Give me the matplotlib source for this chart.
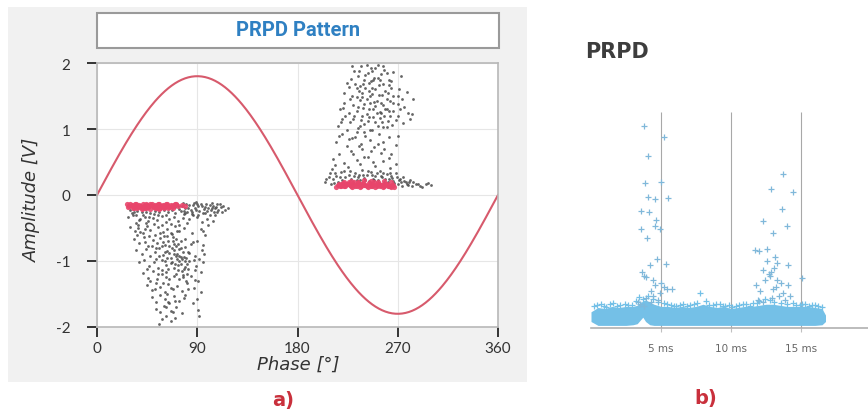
import matplotlib
matplotlib.use("Agg")
import matplotlib.pyplot as plt
from matplotlib.patches import Rectangle
import numpy as np

# ---------------- Panel a data ----------------
phase_deg = np.linspace(0, 360, 361)
sine_amp = 1.8

neg_phase = [28,30,33,36,40,44,48,52,56,60,64,67,70,72,74,76,78,80,82,84,86,88,90,92,94,96,98,100,102,104,106,108,111,115,79,85,91,97,103,89,
             28,32,35,39,43,46,50,54,58,62,65,69,73,77,83,90,99,106,
             30,34,37,41,45,48,52,55,59,63,66,70,74,78,85,93,97,
             33,38,42,46,50,54,57,61,64,68,71,75,79,84,90,95,
             35,40,44,48,52,56,59,63,66,69,72,75,78,82,88,94,
             38,42,47,51,55,58,62,66,69,72,75,79,83,89,95,
             41,46,50,54,58,62,65,69,73,77,81,88,93,
             45,49,53,57,61,64,68,72,76,81,87,
             49,53,57,61,65,69,74,79,90,
             53,57,62,66,71,76,91,
             58,62,66,70,
             60,67,71,74,70,77,63,73,65,76,71,80,68,58,61,79,82,74,
             31,37,43,47,51,53,57,59,61,63,65,67,69,71,73,75,77,79,81,83,86,88,92,96,100,104,
             45,48,52,55,59,63,66,70,74,78,82,86,92,68,60,56,64,
             35,38,41,44,47,51,55,58,62,66,70,74,78,81,86,94,101,108,113,118,
             73,75,77,79,81,83,85,87,89,91,93,95,97,99,101,103,105,107,109,110,112,
             36,39,43,49,53,56,58,62,64,67,69,72,74,76,78,80,84,87,91,93,95]
neg_amp = [-0.15,-0.22,-0.25,-0.24,-0.26,-0.25,-0.27,-0.24,-0.26,-0.23,-0.25,-0.22,-0.18,-0.14,-0.21,-0.16,-0.24,-0.13,-0.19,-0.22,-0.15,-0.2,-0.13,-0.24,-0.17,-0.21,-0.14,-0.19,-0.23,-0.16,-0.2,-0.14,-0.18,-0.22,-0.28,-0.29,-0.3,-0.27,-0.12,-0.1,
           -0.34,-0.31,-0.42,-0.36,-0.33,-0.4,-0.35,-0.38,-0.32,-0.41,-0.36,-0.33,-0.39,-0.35,-0.37,-0.33,-0.36,-0.31,
           -0.48,-0.55,-0.5,-0.58,-0.47,-0.53,-0.6,-0.49,-0.56,-0.51,-0.58,-0.47,-0.55,-0.5,-0.57,-0.52,-0.6,
           -0.66,-0.72,-0.64,-0.77,-0.68,-0.73,-0.65,-0.75,-0.69,-0.63,-0.78,-0.7,-0.66,-0.74,-0.69,-0.76,
           -0.84,-0.9,-0.82,-0.93,-0.86,-0.81,-0.91,-0.85,-0.95,-0.83,-0.89,-0.8,-0.94,-0.87,-0.92,-0.84,
           -1.02,-0.98,-1.08,-1.01,-1.1,-0.99,-1.06,-1.03,-1.11,-0.97,-1.05,-1.09,-1.0,-1.07,-1.02,
           -1.18,-1.25,-1.15,-1.28,-1.2,-1.16,-1.27,-1.22,-1.14,-1.24,-1.19,-1.29,-1.16,
           -1.36,-1.44,-1.33,-1.4,-1.47,-1.35,-1.42,-1.38,-1.46,-1.34,-1.41,
           -1.55,-1.62,-1.51,-1.58,-1.64,-1.53,-1.6,-1.52,-1.57,
           -1.72,-1.78,-1.69,-1.75,-1.7,-1.79,-1.74,
           -1.88,-1.84,-1.91,-1.86,
           -0.62,-0.8,-0.92,-1.0,-1.05,-0.86,-0.95,-0.74,-0.88,-1.15,-1.2,-0.95,-0.7,-0.77,-1.0,-1.0,-1.12,-0.93,
           -0.28,-0.45,-0.52,-0.62,-0.44,-0.81,-0.58,-0.71,-0.87,-0.62,-0.77,-1.01,-0.9,-0.67,-1.06,-0.94,-1.21,-0.79,-1.04,-0.88,-0.71,-1.13,-0.97,-0.9,-0.46,-0.4,
           -1.12,-1.31,-1.42,-1.19,-1.33,-1.5,-1.41,-1.61,-1.28,-1.56,-1.43,-1.63,-1.83,-1.77,-1.68,-1.95,-1.62,
           -0.3,-0.38,-0.3,-0.43,-0.33,-0.29,-0.31,-0.45,-0.3,-0.44,-0.28,-0.46,-0.29,-0.42,-0.3,-0.41,-0.3,-0.25,-0.17,-0.2,
           -0.16,-0.24,-0.12,-0.2,-0.26,-0.15,-0.25,-0.12,-0.23,-0.17,-0.14,-0.27,-0.18,-0.24,-0.15,-0.2,-0.26,-0.18,-0.22,-0.13,-0.25,
           -0.6,-0.56,-0.71,-0.78,-0.97,-0.92,-1.14,-1.24,-1.12,-0.59,-0.74,-0.55,-0.82,-0.97,-1.12,-1.3,-1.23,-0.98,-1.3,-1.47,-0.55]

neg_pink_phase = [27,29,31,33,35,37,39,41,43,45,47,49,51,53,55,57,59,61,63,65,67,69,71,
                  28,30,32,34,36,38,40,42,44,46,48,50,52,54,56,58,60,62,64,66,68,70,
                  32,36,40,44,48,52,56,60,64,68,73,76,79]
neg_pink_amp = [-0.13,-0.17,-0.15,-0.19,-0.14,-0.18,-0.16,-0.13,-0.19,-0.15,-0.17,-0.14,-0.18,-0.16,-0.13,-0.19,-0.15,-0.17,-0.14,-0.18,-0.16,-0.15,-0.14,
                -0.18,-0.14,-0.16,-0.13,-0.17,-0.15,-0.19,-0.16,-0.14,-0.18,-0.13,-0.17,-0.15,-0.19,-0.14,-0.16,-0.18,-0.13,-0.17,-0.15,-0.16,-0.14,
                -0.2,-0.2,-0.21,-0.2,-0.21,-0.2,-0.21,-0.2,-0.2,-0.19,-0.16,-0.15,-0.17]

pos_phase = [205,208,210,212,214,216,218,220,222,224,226,228,230,232,234,236,238,240,242,244,246,248,250,252,254,256,258,260,262,264,266,268,270,272,274,276,278,280,283,286,290,295,300,211,225,250,263,
             212,217,222,228,233,238,243,248,255,262,268,
             215,220,224,229,233,237,241,245,249,253,257,262,268,
             216,220,224,227,231,234,237,240,244,247,250,254,257,261,265,270,275,283,
             218,222,226,230,233,236,239,242,245,248,251,254,257,260,263,266,270,276,284,
             222,226,229,232,235,238,241,244,247,250,253,256,259,262,266,271,278,
             228,231,234,237,240,243,246,249,252,255,258,262,266,273,
             238,245,250,242,255,260,236,248,240,252,244,258,233,247,262,
             230,232,234,236,238,240,241,243,245,246,248,249,251,252,253,255,256,257,259,260,261,263,264,266,268,270,272,274,279,281,
             224,227,229,233,235,239,242,244,247,250,254,257,260,264,223,221,219,217,226,230,235,240,246,252,258,264,270,214,236,257,
             206,209,213,215,219,221,223,227,229,231,233,235,237,239,241,243,245,247,249,251,253,255,257,259,261,263,265,267,269,271,273,275,277,279,281,284,288,292,297]
pos_amp = [0.2,0.28,0.16,0.24,0.33,0.19,0.27,0.22,0.36,0.18,0.3,0.24,0.2,0.34,0.27,0.22,0.38,0.26,0.31,0.21,0.35,0.25,0.29,0.22,0.37,0.27,0.2,0.32,0.24,0.29,0.21,0.34,0.17,0.25,0.14,0.21,0.16,0.19,0.13,0.17,0.14,0.16,0.15,0.4,0.42,0.44,0.41,
           0.55,0.62,0.48,0.66,0.53,0.7,0.58,0.5,0.63,0.56,0.47,
           0.8,0.92,0.75,0.86,0.95,0.78,0.9,0.83,0.73,0.93,0.81,0.88,0.76,
           1.05,1.15,0.99,1.1,1.2,1.02,1.13,1.07,1.18,0.98,1.1,1.16,1.03,1.12,1.06,1.19,1.09,1.22,
           1.3,1.4,1.25,1.37,1.28,1.44,1.32,1.23,1.39,1.3,1.43,1.26,1.36,1.31,1.42,1.27,1.38,1.33,1.45,
           1.55,1.64,1.5,1.68,1.57,1.49,1.62,1.7,1.53,1.6,1.67,1.52,1.58,1.66,1.5,1.6,1.56,
           1.76,1.88,1.8,1.95,1.74,1.85,1.92,1.78,1.97,1.83,1.9,1.75,1.86,1.8,
           1.2,1.5,1.35,1.45,1.25,1.45,1.65,1.75,0.95,1.05,1.3,1.2,1.48,1.62,1.28,
           1.15,0.88,1.33,1.05,1.55,1.38,1.82,1.12,0.98,1.72,1.18,1.41,1.25,1.78,1.52,1.4,1.1,1.68,1.3,1.03,1.55,1.2,1.62,1.4,1.13,1.5,1.3,1.45,1.25,1.15,
           1.7,1.45,1.95,1.62,1.88,1.68,1.97,1.57,1.88,1.92,1.74,1.96,1.85,1.72,1.2,1.32,1.1,0.9,0.85,0.62,0.74,0.58,0.67,0.78,0.7,0.62,0.9,0.45,0.47,0.52,
           0.25,0.33,0.18,0.29,0.35,0.16,0.28,0.36,0.17,0.29,0.23,0.31,0.17,0.3,0.23,0.37,0.19,0.3,0.22,0.34,0.18,0.29,0.33,0.24,0.19,0.33,0.26,0.18,0.28,0.22,0.19,0.27,0.2,0.15,0.23,0.19,0.17,0.12,0.18]

pos_pink_phase = [215,217,219,221,223,225,227,229,231,233,235,237,239,241,243,245,247,249,251,253,255,257,259,261,263,265,267,
                  216,218,220,222,224,226,228,230,232,234,236,238,240,242,244,246,248,250,252,254,256,258,260,262,264,266,
                  222,228,234,240,246,252,258,264]
pos_pink_amp = [0.12,0.16,0.14,0.18,0.13,0.17,0.15,0.12,0.19,0.14,0.16,0.13,0.18,0.15,0.12,0.17,0.14,0.19,0.13,0.16,0.15,0.12,0.17,0.14,0.13,0.15,0.12,
                0.15,0.13,0.17,0.14,0.16,0.19,0.13,0.16,0.14,0.18,0.12,0.16,0.15,0.13,0.18,0.14,0.16,0.12,0.17,0.14,0.15,0.13,0.16,0.14,0.12,0.15,
                0.2,0.21,0.2,0.22,0.21,0.2,0.21,0.19]

phase_ticks = [0, 90, 180, 270, 360]
amp_ticks = [-2, -1, 0, 1, 2]

# ---------------- Panel b data ----------------
pk1_t = [3.81,5.24,4.09,3.88,5.02,4.05,4.59,5.50,3.55,4.12,4.67,3.60,4.02,4.55,4.93,4.69,5.36,4.20,3.62,3.76,3.95,5.00,5.20,5.45,5.80,4.30,4.45,3.95,3.35,3.75,4.25,4.60,4.95,3.50,4.80,4.40]
pk1_a = [0.934,0.883,0.798,0.670,0.674,0.608,0.596,0.600,0.540,0.539,0.50,0.458,0.415,0.47,0.46,0.319,0.296,0.29,0.258,0.24,0.235,0.21,0.19,0.18,0.18,0.17,0.15,0.14,0.12,0.1,0.12,0.2,0.16,0.11,0.13,0.22]
pk2_t = [13.71,12.88,14.40,13.62,12.26,14.02,12.98,11.70,12.00,12.60,13.30,13.05,12.85,12.25,13.30,14.05,14.10,15.05,11.80,12.10,12.40,12.70,13.00,13.40,13.70,14.20,11.90,12.30,12.90,13.20,13.55,13.85,12.55,13.15,12.75]
pk2_a = [0.713,0.642,0.628,0.551,0.497,0.471,0.44,0.36,0.355,0.365,0.30,0.28,0.26,0.27,0.22,0.29,0.2,0.23,0.2,0.17,0.22,0.25,0.18,0.15,0.16,0.15,0.13,0.12,0.14,0.19,0.21,0.13,0.31,0.33,0.24]

band_t = [0.0,0.5,1.0,1.5,2.0,2.5,3.0,3.3,3.5,3.7,3.9,4.2,4.5,5.0,5.5,6.0,6.5,7.0,7.5,8.0,8.5,9.0,9.5,10.0,10.5,11.0,11.5,12.0,12.5,13.0,13.5,14.0,14.5,15.0,15.5,16.0,16.5,16.75]
band_top = [0.075,0.095,0.09,0.1,0.095,0.1,0.1,0.105,0.115,0.125,0.13,0.12,0.11,0.1,0.1,0.095,0.1,0.095,0.1,0.11,0.1,0.095,0.1,0.09,0.095,0.1,0.1,0.105,0.11,0.11,0.105,0.1,0.1,0.1,0.1,0.095,0.09,0.06]
band_bot = [0.03,0.012,0.012,0.012,0.012,0.012,0.015,0.02,0.035,0.05,0.03,0.015,0.012,0.012,0.012,0.012,0.012,0.012,0.012,0.012,0.012,0.012,0.012,0.012,0.012,0.012,0.012,0.012,0.012,0.012,0.012,0.012,0.012,0.012,0.012,0.012,0.015,0.03]

edge_t = [0.2,0.7,1.1,1.6,2.1,2.4,2.9,3.2,3.4,3.7,4.1,4.4,4.8,5.2,5.7,6.1,6.6,7.1,7.6,7.8,8.2,8.7,9.2,9.6,10.1,10.6,11.1,11.6,12.0,12.4,12.8,13.1,13.6,14.0,14.4,14.9,15.3,15.8,16.2,16.5,
          0.45,0.95,1.35,1.85,2.65,5.45,5.95,6.35,6.85,7.35,8.45,8.95,9.4,9.85,10.35,10.85,11.35,11.85,14.65,15.1,15.55,16.0]
edge_a = [0.1,0.11,0.095,0.115,0.105,0.11,0.105,0.125,0.145,0.135,0.15,0.135,0.12,0.115,0.105,0.1,0.11,0.105,0.115,0.16,0.125,0.105,0.11,0.1,0.095,0.105,0.11,0.115,0.125,0.135,0.13,0.12,0.115,0.11,0.115,0.105,0.11,0.105,0.1,0.095,
          0.105,0.1,0.11,0.1,0.105,0.11,0.1,0.105,0.1,0.11,0.105,0.11,0.1,0.105,0.1,0.11,0.1,0.115,0.105,0.11,0.1,0.105]

time_ticks = [5, 10, 15]
time_labels = ["5 ms", "10 ms", "15 ms"]

# ---------------- Figure ----------------
W, H = 868, 414
fig = plt.figure(figsize=(W / 100, H / 100), dpi=100)
fig.patch.set_facecolor("white")

def fx(px):
    return px / W

def fy(py):
    return 1 - py / H

# gray panel background for a)
fig.patches.append(Rectangle((fx(8), fy(383)), fx(519), (383 - 8) / H,
                             transform=fig.transFigure, facecolor="#f1f1f1",
                             edgecolor="none", zorder=-5))
# title box
fig.patches.append(Rectangle((fx(97), fy(49)), fx(402), 35 / H,
                             transform=fig.transFigure, facecolor="white",
                             edgecolor="#9a9a9a", linewidth=1.5, zorder=-4))
fig.text(fx(298), fy(31), "PRPD Pattern", ha="center", va="center",
         color="#2f80c2", fontsize=14.5, fontweight="bold", family="Roboto", zorder=2)

ax = fig.add_axes([fx(97), fy(328), fx(401), 264 / H])
ax.set_zorder(1)
ax.set_facecolor("white")
ax.set_xlim(0, 360)
ax.set_ylim(-2, 2)
ax.grid(True, color="#e6e6e6", linewidth=0.8, zorder=0)
ax.set_axisbelow(True)

ax.plot(phase_deg, sine_amp * np.sin(np.deg2rad(phase_deg)), color="#d75a6c", linewidth=1.5, zorder=2)
ax.scatter(neg_phase, neg_amp, s=4, color="#4a4a4a", alpha=0.85, linewidths=0, zorder=3)
ax.scatter(pos_phase, pos_amp, s=4, color="#4a4a4a", alpha=0.85, linewidths=0, zorder=3)
ax.scatter(neg_pink_phase, neg_pink_amp, s=14, color="#e8456b", alpha=0.9, linewidths=0, zorder=4)
ax.scatter(pos_pink_phase, pos_pink_amp, s=14, color="#e8456b", alpha=0.9, linewidths=0, zorder=4)

ax.set_xticks(phase_ticks)
ax.set_yticks(amp_ticks)
ax.set_xticklabels([str(v) for v in phase_ticks])
ax.set_yticklabels([str(v) for v in amp_ticks])
for sp in ax.spines.values():
    sp.set_color("#b8b8b8")
    sp.set_linewidth(1.2)
ax.tick_params(axis="both", direction="out", length=7, width=1.4, color="#333333",
               labelsize=11, labelcolor="#333333")
ax.tick_params(axis="y", pad=12)
ax.tick_params(axis="x", pad=3)
for lab in ax.get_xticklabels() + ax.get_yticklabels():
    lab.set_family("Lato")

fig.text(fx(298), fy(365), "Phase [°]", ha="center", va="center", fontsize=13,
         style="italic", color="#333333")
fig.text(fx(32), fy(200), "Amplitude [V]", ha="center", va="center", fontsize=13,
         style="italic", color="#333333", rotation=90)

fig.text(fx(283), fy(401), "a)", ha="center", va="center", fontsize=14,
         fontweight="bold", color="#c9303c")

# ---------------- Panel b ----------------
bx = fig.add_axes([fx(591), fy(329), 280 / W, 216 / H])
bx.set_xlim(0, 20)
bx.set_ylim(0, 1)
bx.patch.set_alpha(0)
for k in ["left", "right", "top"]:
    bx.spines[k].set_visible(False)
bx.spines["bottom"].set_color("#b0b0b0")
bx.spines["bottom"].set_linewidth(1.2)
bx.set_yticks([])
bx.set_xticks(time_ticks)
bx.set_xticklabels(time_labels)
bx.tick_params(axis="x", length=3, width=0.8, color="#c0c0c0", labelsize=7.5,
               labelcolor="#666666", pad=8)
bx.vlines(time_ticks, 0, 1, color="#a8a8a8", linewidth=0.8, zorder=1)

blue = "#74c0e7"
bx.fill_between(band_t, band_bot, band_top, color=blue, linewidth=0, zorder=2)
bx.scatter(edge_t, edge_a, marker="+", s=22, color=blue, linewidths=0.9, zorder=3)
bx.scatter(pk1_t, pk1_a, marker="+", s=24, color="#80b8da", linewidths=0.9, zorder=3)
bx.scatter(pk2_t, pk2_a, marker="+", s=24, color="#80b8da", linewidths=0.9, zorder=3)

fig.text(fx(585), fy(52), "PRPD", ha="left", va="center", fontsize=15,
         fontweight="semibold", color="#3d3d3d")
fig.text(fx(706), fy(399), "b)", ha="center", va="center", fontsize=14,
         fontweight="bold", color="#c9303c")

fig.savefig("out.png", dpi=100)
